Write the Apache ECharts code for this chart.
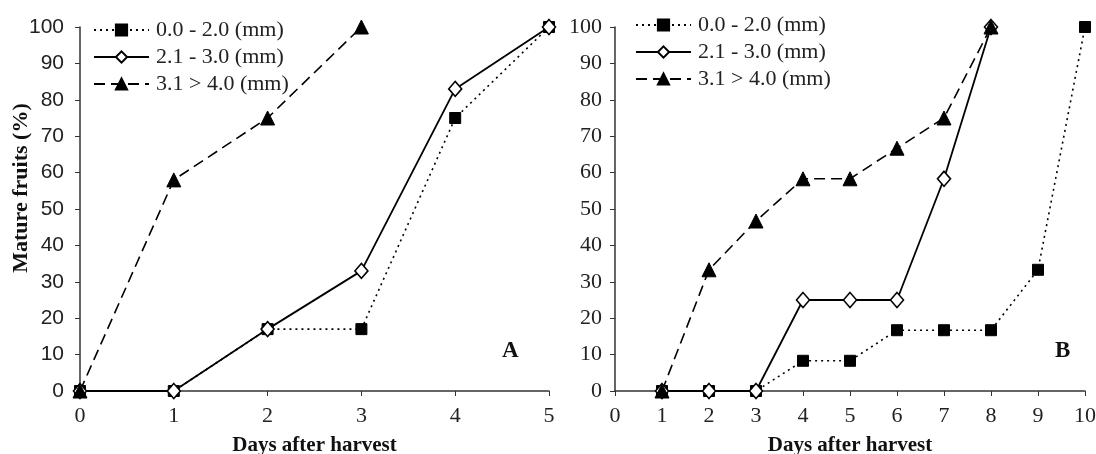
<!DOCTYPE html>
<html><head><meta charset="utf-8">
<script src="https://cdn.jsdelivr.net/npm/echarts@6/dist/echarts.min.js"></script>
<style>html,body{margin:0;padding:0;background:#fff;}#c{width:1096px;height:454px;}</style>
</head><body><div id="c"></div>
<script>
const seriesNames = ['0.0 - 2.0 (mm)', '2.1 - 3.0 (mm)', '3.1 > 4.0 (mm)'];
const yTicks = [0,10,20,30,40,50,60,70,80,90,100];
const xTicksA = [0,1,2,3,4,5];
const xTicksB = [0,1,2,3,4,5,6,7,8,9,10];
// Panel A
const daysA = [0,1,2,3,4,5];
const aSmall = [0,0,17,17,75,100];
const aMid = [0,0,17,33,83,100];
const aLarge = [0,58,75,100];
// Panel B
const daysB = [1,2,3,4,5,6,7,8,9,10];
const bSmall = [0,0,0,8.3,8.3,16.7,16.7,16.7,33.3,100];
const bMid = [0,0,0,25,25,25,58.3,100];
const bLarge = [0,33.3,46.7,58.3,58.3,66.7,75,100];

const SERIF = '"Liberation Serif","Times New Roman",serif';
const SANS = '"Liberation Sans",Arial,sans-serif';
const pairs = (xs, ys) => ys.map((v,i)=>[xs[i], v]);

const styles = [
  {symbol:'rect', symbolSize:11, lineStyle:{color:'#000', width:1.6, type:[2,4]}, itemStyle:{color:'#000', borderColor:'#000', borderWidth:1}},
  {symbol:'diamond', symbolSize:[13,15], lineStyle:{color:'#000', width:1.8, type:'solid'}, itemStyle:{color:'#fff', borderColor:'#000', borderWidth:1.6}},
  {symbol:'triangle', symbolSize:14, lineStyle:{color:'#000', width:1.6, type:[11,6]}, itemStyle:{color:'#000', borderColor:'#000', borderWidth:1}}
];
function mk(idx, name, data) {
  return Object.assign({type:'line', name:name, xAxisIndex:idx, yAxisIndex:idx, data:data, showAllSymbol:true, animation:false}, JSON.parse(JSON.stringify(styles[seriesNames.indexOf(name)])));
}
const axisLine = {show:true, lineStyle:{color:'#333', width:1.5}};
function xAxis(idx, ticks) {
  return {type:'value', gridIndex:idx, min:0, max:ticks[ticks.length-1], interval:1,
    axisLine:axisLine, axisTick:{show:true, length:5, lineStyle:{color:'#333'}}, splitLine:{show:false},
    axisLabel:{fontFamily:SERIF, fontSize:22, color:'#222', margin:14},
    name:'Days after harvest', nameLocation:'middle', nameGap:44,
    nameTextStyle:{fontFamily:SERIF, fontWeight:'bold', fontSize:21, color:'#111'}};
}
function yAxis(idx, font, size, margin) {
  return {type:'value', gridIndex:idx, min:0, max:100, interval:10,
    axisLine:axisLine, axisTick:{show:true, length:5, lineStyle:{color:'#333'}}, splitLine:{show:false},
    axisLabel:{fontFamily:font, fontSize:size, color:'#222', margin:margin}};
}
function legend(left, top) {
  return {orient:'vertical', left:left, top:top, itemWidth:55, itemHeight:14, itemGap:5,
    data:seriesNames, selectedMode:false,
    textStyle:{fontFamily:SERIF, fontSize:22, color:'#222', padding:[0,0,0,2]}};
}
const chart = echarts.init(document.getElementById('c'));
chart.setOption({
  animation:false,
  backgroundColor:'#fff',
  grid:[{left:80, right:547, top:27, bottom:63, containLabel:false, outerBoundsMode:'none'},
        {left:615, right:11, top:27, bottom:63, containLabel:false, outerBoundsMode:'none'}],
  xAxis:[xAxis(0, xTicksA), xAxis(1, xTicksB)],
  yAxis:[yAxis(0, SANS, 21, 16), yAxis(1, SERIF, 22, 13)],
  legend:[legend(88, 14), legend(630, 9)],
  title:[
    {text:'A', left:497, top:335, textStyle:{fontFamily:SERIF, fontWeight:'bold', fontSize:23, color:'#111'}},
    {text:'B', left:1050, top:335, textStyle:{fontFamily:SERIF, fontWeight:'bold', fontSize:23, color:'#111'}}
  ],
  graphic:[{type:'text', x:21, y:188, rotation:Math.PI/2,
    style:{text:'Mature fruits (%)', font:'bold 22px '+SERIF, fill:'#111', textAlign:'center', textVerticalAlign:'middle'}}],
  series:[
    mk(0, seriesNames[0], pairs(daysA, aSmall)),
    mk(0, seriesNames[1], pairs(daysA, aMid)),
    mk(0, seriesNames[2], pairs(daysA, aLarge)),
    mk(1, seriesNames[0], pairs(daysB, bSmall)),
    mk(1, seriesNames[1], pairs(daysB, bMid)),
    mk(1, seriesNames[2], pairs(daysB, bLarge))
  ]
});
</script></body></html>
